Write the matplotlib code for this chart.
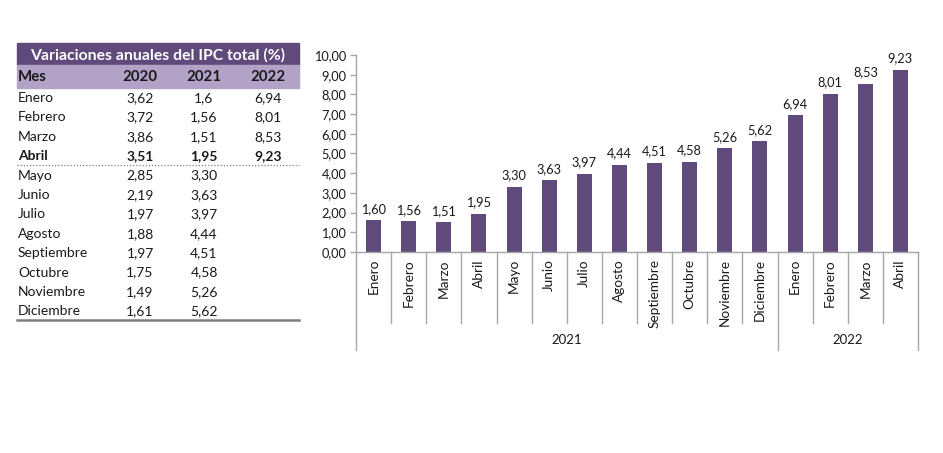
import matplotlib
matplotlib.use("Agg")
import matplotlib.pyplot as plt
from matplotlib.patches import Rectangle
from matplotlib.lines import Line2D

W, H = 943, 453

meses = ["Enero", "Febrero", "Marzo", "Abril", "Mayo", "Junio", "Julio",
         "Agosto", "Septiembre", "Octubre", "Noviembre", "Diciembre"]
col_2020 = ["3,62", "3,72", "3,86", "3,51", "2,85", "2,19", "1,97",
            "1,88", "1,97", "1,75", "1,49", "1,61"]
col_2021 = ["1,6", "1,56", "1,51", "1,95", "3,30", "3,63", "3,97",
            "4,44", "4,51", "4,58", "5,26", "5,62"]
col_2022 = ["6,94", "8,01", "8,53", "9,23"]

# serie del grafico: ene-2021 .. abr-2022
bar_labels = meses + ["Enero", "Febrero", "Marzo", "Abril"]
bar_values = [1.60, 1.56, 1.51, 1.95, 3.30, 3.63, 3.97, 4.44, 4.51, 4.58,
              5.26, 5.62, 6.94, 8.01, 8.53, 9.23]
years = ["2021", "2022"]
year_counts = [12, 4]

PURPLE = "#604a7b"
LIGHT = "#b3a2c7"
GRAY = "#a6a6a6"
TXT = "#1a1a1a"

plt.rcParams["font.family"] = ["Lato", "DejaVu Sans"]


def fx(px):
    return px / W


def fy(py):
    return 1 - py / H


fig = plt.figure(figsize=(W / 100, H / 100), dpi=100)

# ---------- tabla ----------
fig.patches.append(Rectangle((fx(17), fy(65)), fx(299) - fx(17), fy(43) - fy(65),
                             transform=fig.transFigure, color=PURPLE, zorder=0))
fig.patches.append(Rectangle((fx(17), fy(88)), fx(299) - fx(17), fy(65) - fy(88),
                             transform=fig.transFigure, color=LIGHT, zorder=0))
fig.text(fx(158), fy(55), "Variaciones anuales del IPC total (%)", color="white",
         fontsize=11.3, fontweight="bold", ha="center", va="center")

cols_x = [140, 204, 268]
fig.text(fx(18), fy(77), "Mes", fontsize=10.8, fontweight="bold", color=TXT, va="center")
for cx, yr in zip(cols_x, ["2020", "2021", "2022"]):
    fig.text(fx(cx), fy(77), yr, fontsize=10.8, fontweight="bold", color=TXT,
             ha="center", va="center")

row_y0, row_dy = 98, 19.4
for i, mes in enumerate(meses):
    y = fy(row_y0 + i * row_dy)
    w = "bold" if mes == "Abril" else "normal"
    fig.text(fx(18), y, mes, fontsize=10, fontweight=w, color=TXT, va="center")
    vals = [col_2020[i], col_2021[i], col_2022[i] if i < len(col_2022) else ""]
    for cx, v in zip(cols_x, vals):
        fig.text(fx(cx), y, v, fontsize=10, fontweight=w, color=TXT,
                 ha="center", va="center")

fig.add_artist(Line2D([fx(17), fx(299)], [fy(165), fy(165)], color="#808080",
                      lw=0.9, ls=(0, (1, 1.5)), transform=fig.transFigure))
fig.add_artist(Line2D([fx(17), fx(299)], [fy(320), fy(320)], color="#7f7f7f",
                      lw=1.8, transform=fig.transFigure))

# ---------- grafico ----------
ax = fig.add_axes([fx(356), fy(252), fx(918) - fx(356), fy(55) - fy(252)])
x = range(len(bar_values))
ax.bar(x, bar_values, width=0.43, color=PURPLE, zorder=2)
for xi, v in zip(x, bar_values):
    ax.annotate(f"{v:.2f}".replace(".", ","), (xi, v), xytext=(0, 4),
                textcoords="offset points", ha="center", va="bottom",
                fontsize=9.2, color=TXT)

ax.set_xlim(-0.5, len(bar_values) - 0.5)
ax.set_ylim(0, 10)
ax.set_yticks(range(0, 11))
ax.set_yticklabels([f"{t},00" for t in range(0, 11)], fontsize=9.2, color=TXT)
ax.set_xticks([])
ax.tick_params(axis="y", length=4, color=GRAY, width=1, pad=3)
for s in ["top", "right", "left"]:
    ax.spines[s].set_visible(False)
ax.spines["bottom"].set_color(GRAY)
ax.spines["bottom"].set_linewidth(1)

tr = ax.get_xaxis_transform()
low_month = -71 / 197
low_year = -98 / 197

# eje vertical prolongado
ax.plot([-0.5, -0.5], [low_year, 1], color=GRAY, lw=1, transform=tr, clip_on=False)

for xi, lab in zip(x, bar_labels):
    ax.text(xi, -7 / 197, lab, rotation=90, ha="center", va="top", fontsize=9.8,
            color=TXT, transform=tr)

edges = [0]
for c in year_counts:
    edges.append(edges[-1] + c)
for k in range(1, len(bar_values) + 1):
    bottom = low_year if k in edges else low_month
    ax.plot([k - 0.5, k - 0.5], [0, bottom], color=GRAY, lw=1, transform=tr,
            clip_on=False)

for yr, a, b in zip(years, edges[:-1], edges[1:]):
    ax.text((a + b - 1) / 2, -88 / 197, yr, ha="center", va="center", fontsize=9.5,
            color=TXT, transform=tr)

fig.savefig("out.png", dpi=100)
